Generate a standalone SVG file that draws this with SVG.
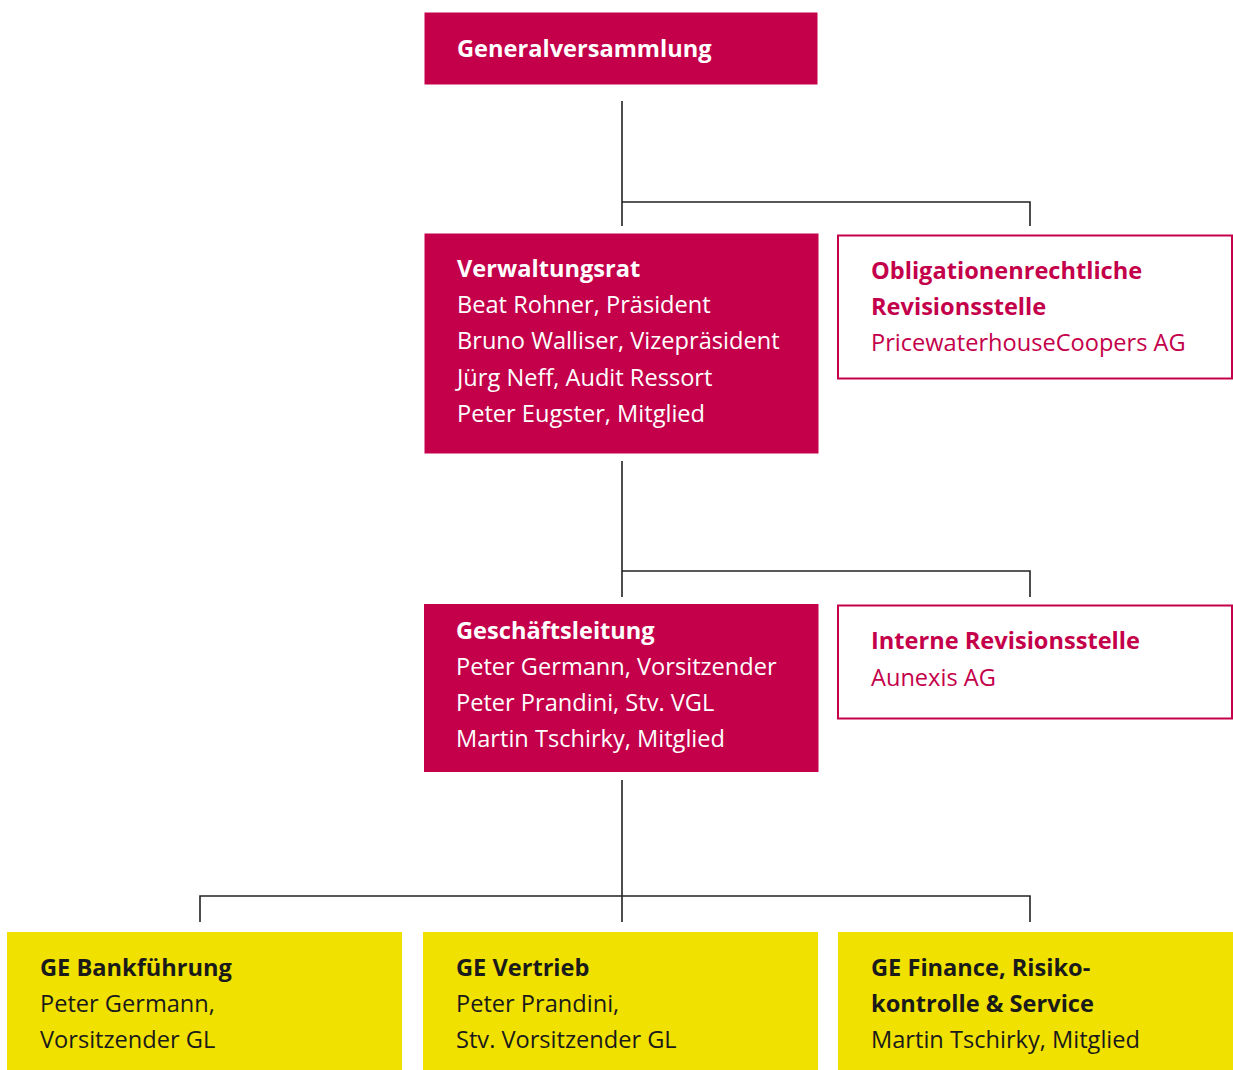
<svg xmlns="http://www.w3.org/2000/svg" width="1233" height="1070" viewBox="0 0 1233 1070">
<style>
.red{fill:#C4004B}
.out{fill:#fff;stroke:#C4004B;stroke-width:2}
.yel{fill:#F0E100}
text{font-family:"Open Sans","Noto Sans",sans-serif;font-size:23.6px}
.b{font-weight:700}
.w{fill:#fff}
.r{fill:#C4004B}
.k{fill:#1a1a1a}
.ln{stroke:#222;stroke-width:1.6;fill:none}
</style>
<rect width="1233" height="1070" fill="#fff"/>
<g id="connectors">
<path class="ln" d="M622 101V226M622 202H1030V226"/>
<path class="ln" d="M622 461V597M622 571H1030V597"/>
<path class="ln" d="M622 780V922M200 922V896H1030V922"/>
</g>
<g id="generalversammlung">
<rect class="red" x="424.5" y="12.5" width="393" height="72"/>
<text class="b w" x="457" y="57">Generalversammlung</text>
</g>
<g id="verwaltungsrat">
<rect class="red" x="424.5" y="233.5" width="394" height="220"/>
<text class="w" x="457" y="277"><tspan class="b">Verwaltungsrat</tspan><tspan x="457" y="313">Beat Rohner, Präsident</tspan><tspan x="457" y="349">Bruno Walliser, Vizepräsident</tspan><tspan x="457" y="386">Jürg Neff, Audit Ressort</tspan><tspan x="457" y="422">Peter Eugster, Mitglied</tspan></text>
</g>
<g id="revisionsstelle">
<rect class="out" x="838" y="235.5" width="394" height="143"/>
<text class="r" x="871" y="279"><tspan class="b">Obligationenrechtliche</tspan><tspan class="b" x="871" y="315">Revisionsstelle</tspan><tspan x="871" y="351">PricewaterhouseCoopers AG</tspan></text>
</g>
<g id="geschaeftsleitung">
<rect class="red" x="424" y="604" width="394.5" height="168"/>
<text class="w" x="456" y="639"><tspan class="b">Geschäftsleitung</tspan><tspan x="456" y="675">Peter Germann, Vorsitzender</tspan><tspan x="456" y="711">Peter Prandini, Stv. VGL</tspan><tspan x="456" y="747">Martin Tschirky, Mitglied</tspan></text>
</g>
<g id="interne-revision">
<rect class="out" x="838" y="605.5" width="394" height="113"/>
<text class="r" x="871" y="649"><tspan class="b">Interne Revisionsstelle</tspan><tspan x="871" y="686">Aunexis AG</tspan></text>
</g>
<g id="ge-bankfuehrung">
<rect class="yel" x="7" y="932" width="395" height="138"/>
<text class="k" x="40" y="976"><tspan class="b">GE Bankführung</tspan><tspan x="40" y="1012">Peter Germann,</tspan><tspan x="40" y="1048">Vorsitzender GL</tspan></text>
</g>
<g id="ge-vertrieb">
<rect class="yel" x="423" y="932" width="395" height="138"/>
<text class="k" x="456" y="976"><tspan class="b">GE Vertrieb</tspan><tspan x="456" y="1012">Peter Prandini,</tspan><tspan x="456" y="1048">Stv. Vorsitzender GL</tspan></text>
</g>
<g id="ge-finance">
<rect class="yel" x="838" y="932" width="395" height="138"/>
<text class="k" x="871" y="976"><tspan class="b">GE Finance, Risiko-</tspan><tspan class="b" x="871" y="1012">kontrolle &amp; Service</tspan><tspan x="871" y="1048">Martin Tschirky, Mitglied</tspan></text>
</g>
</svg>
